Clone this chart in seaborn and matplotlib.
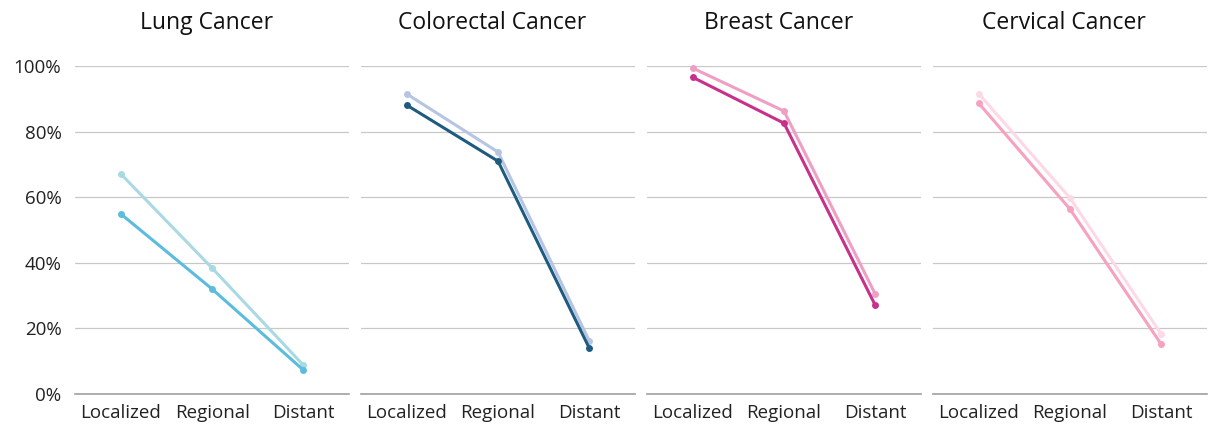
import pandas as pd
import matplotlib.pyplot as plt
import seaborn as sns

# Values (percent survival by stage)
stages = ['Localized', 'Regional', 'Distant']
cancers = ['Lung Cancer', 'Colorectal Cancer', 'Breast Cancer', 'Cervical Cancer']

group_a = {
    'Lung Cancer': [67.1, 38.4, 8.8],
    'Colorectal Cancer': [91.5, 73.8, 16.2],
    'Breast Cancer': [99.4, 86.3, 30.5],
    'Cervical Cancer': [91.6, 59.8, 18.3],
}
group_b = {
    'Lung Cancer': [54.9, 32.0, 7.3],
    'Colorectal Cancer': [88.1, 71.0, 14.0],
    'Breast Cancer': [96.6, 82.6, 27.1],
    'Cervical Cancer': [88.7, 56.4, 15.2],
}

palettes = {
    'Lung Cancer': ['#a9d9e3', '#5bbcdd'],
    'Colorectal Cancer': ['#b5c5e2', '#1e5b81'],
    'Breast Cancer': ['#ef9fc3', '#c8318b'],
    'Cervical Cancer': ['#fdd9e5', '#f7a1c0'],
}

rows = []
for c in cancers:
    for s, a, b in zip(stages, group_a[c], group_b[c]):
        rows.append({'cancer': c, 'stage': s, 'group': 'Group A', 'value': a})
        rows.append({'cancer': c, 'stage': s, 'group': 'Group B', 'value': b})
df = pd.DataFrame(rows)

sns.set_style('white')
plt.rcParams['font.family'] = ['Open Sans', 'DejaVu Sans']

fig, axes = plt.subplots(1, 4, figsize=(12.14, 4.24), dpi=100, sharey=True)
fig.subplots_adjust(left=0.062, right=0.994, top=0.844, bottom=0.071, wspace=0.045)

for ax, c in zip(axes, cancers):
    sub = df[df['cancer'] == c]
    sns.lineplot(data=sub, x='stage', y='value', hue='group',
                 palette=palettes[c], marker='o', markersize=5,
                 markeredgewidth=0, linewidth=2.2, ax=ax, legend=False,
                 sort=False)
    for ln in ax.lines:
        ln.set_clip_on(False)
    ax.set_ylim(0, 100)
    ax.set_xlim(-0.5, 2.5)
    ax.set_yticks([0, 20, 40, 60, 80, 100])
    ax.set_yticklabels([f'{v}%' for v in [0, 20, 40, 60, 80, 100]])
    ax.grid(axis='y', color='#c8c8c8', linewidth=0.9)
    ax.grid(axis='x', visible=False)
    ax.set_axisbelow(True)
    for side in ['left', 'right', 'top']:
        ax.spines[side].set_visible(False)
    ax.spines['bottom'].set_color('#a0a0a0')
    ax.spines['bottom'].set_linewidth(1.2)
    ax.tick_params(axis='x', length=0, labelsize=13.5, colors='#222222', pad=7)
    ax.tick_params(axis='y', length=0, labelsize=13.5, colors='#222222', pad=10)
    ax.set_xlabel('')
    ax.set_ylabel('')
    ax.set_title(c, fontsize=16.5, pad=31, color='#111111', x=0.48, va='center')

plt.savefig('out.png', dpi=100)
